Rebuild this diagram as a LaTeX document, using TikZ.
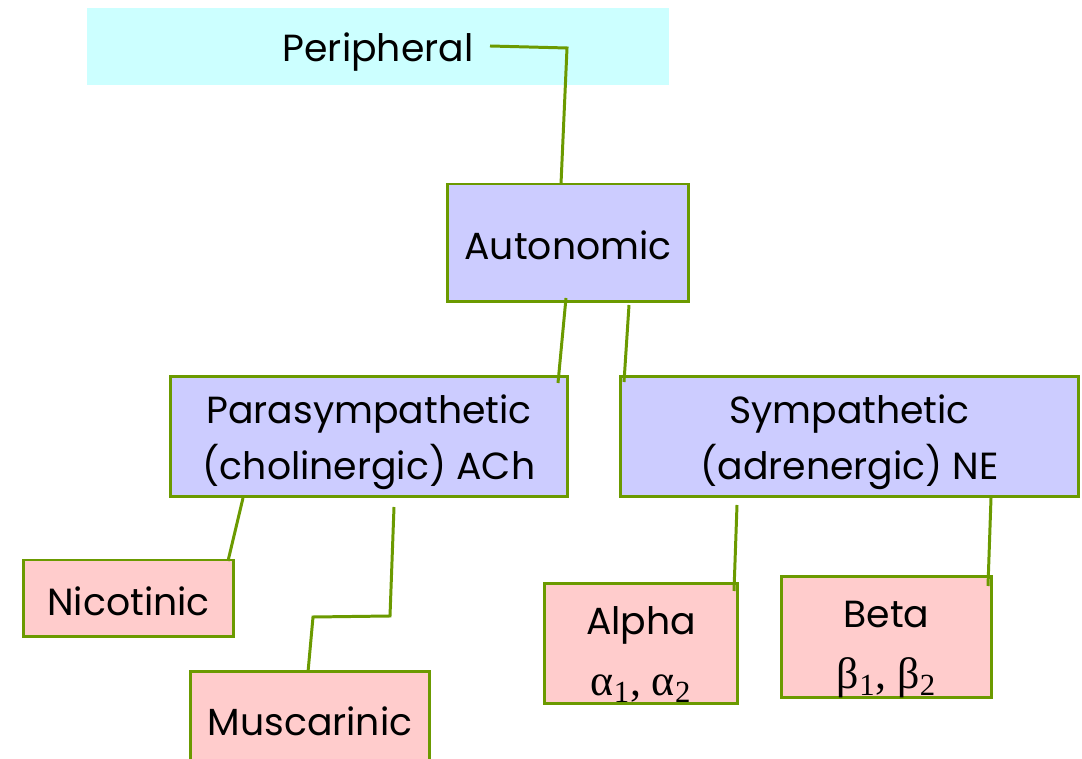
\documentclass[tikz,border=0pt]{standalone}
\usepackage{fontspec}
\setmainfont{Poppins}
\newfontfamily\grkfont{Liberation Serif}
\usetikzlibrary{positioning}

\definecolor{linegreen}{HTML}{6B9A00}
\definecolor{topcyan}{HTML}{CCFFFF}
\definecolor{midlilac}{HTML}{CCCCFF}
\definecolor{leafpink}{HTML}{FFCCCC}

\newcommand{\padtop}[1]{\rule{0pt}{#1}}
\newcommand{\grk}[1]{{\grkfont\fontsize{25}{32}\selectfont #1}}

\begin{document}
\begin{tikzpicture}[
    x=0.02cm, y=-0.02cm,
    every node/.style={font=\fontsize{21.5}{32}\selectfont, align=center, inner sep=0pt},
    topbox/.style={fill=topcyan},
    midbox/.style={draw=linegreen, fill=midlilac, line width=1.7pt},
    leafbox/.style={draw=linegreen, fill=leafpink, line width=1.7pt},
    link/.style={draw=linegreen, line width=1.7pt, line join=miter}
]

    % === Frame ===
    \useasboundingbox (0,0) rectangle (1082,759);

    % === Top level ===
    \node[topbox, minimum width=11.64cm, minimum height=1.54cm, text height=23pt] (periph) at (378,46.5) {Peripheral};

    % === Second level ===
    \node[midbox, minimum width=4.84cm, minimum height=2.36cm, text height=19pt] (auto) at (568,243) {Autonomic};

    % === Third level ===
    \node[midbox, minimum width=7.96cm, minimum height=2.42cm] (para) at (369,436.5)
        {\padtop{23pt}Parasympathetic\\(cholinergic) ACh};
    \node[midbox, minimum width=9.18cm, minimum height=2.42cm] (symp) at (849.5,436.5)
        {\padtop{23pt}Sympathetic\\(adrenergic) NE};

    % === Receptors ===
    \node[leafbox, minimum width=4.22cm, minimum height=1.54cm, text height=19pt] (nico) at (128.5,598.5) {Nicotinic};
    \node[leafbox, minimum width=4.80cm, minimum height=2.0cm, text height=17pt] (musc) at (310,721) {Muscarinic};
    \node[leafbox, minimum width=3.88cm, minimum height=2.42cm] (alpha) at (641,643.5)
        {\padtop{28.5pt}Alpha\\[3pt]\grk{α\textsubscript{1}, α\textsubscript{2}}};
    \node[leafbox, minimum width=4.22cm, minimum height=2.40cm] (beta) at (886.5,637)
        {\padtop{29pt}Beta\\[3pt]\grk{β\textsubscript{1}, β\textsubscript{2}}};

    % === Connector ends ===
    \coordinate (periph end) at (490,46);
    \coordinate (auto top) at (561,184);
    \coordinate (auto l) at (566,298);
    \coordinate (para in) at (558,383);
    \coordinate (auto r) at (629,305);
    \coordinate (symp in) at (624,382);
    \coordinate (para l) at (243,498);
    \coordinate (nico in) at (228,561);
    \coordinate (para r) at (394,507);
    \coordinate (musc in) at (308,672);
    \coordinate (symp l) at (737,505);
    \coordinate (alpha in) at (734,591);
    \coordinate (symp r) at (991,498);
    \coordinate (beta in) at (988,586);

    % === Connectors ===
    \draw[link] (periph end) -- (567,48) -- (auto top);
    \draw[link] (auto l) -- (para in);
    \draw[link] (auto r) -- (symp in);
    \draw[link] (para l) -- (nico in);
    \draw[link] (para r) -- (390,616) -- (313,617) -- (musc in);
    \draw[link] (symp l) -- (alpha in);
    \draw[link] (symp r) -- (beta in);

\end{tikzpicture}
\end{document}
